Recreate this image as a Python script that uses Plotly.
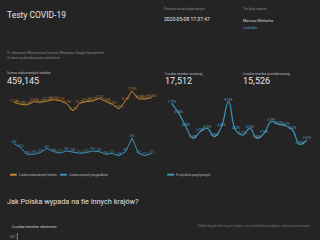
import plotly.graph_objects as go

# ---------------- data ----------------
dates = ["2020-04-16", "2020-04-17", "2020-04-18", "2020-04-19", "2020-04-20", "2020-04-21",
         "2020-04-22", "2020-04-23", "2020-04-24", "2020-04-25", "2020-04-26", "2020-04-27",
         "2020-04-28", "2020-04-29", "2020-04-30", "2020-05-01", "2020-05-02", "2020-05-03",
         "2020-05-04", "2020-05-05", "2020-05-06", "2020-05-07"]
tests_daily = [13584, 12805, 12549, 13835, 13576, 14104, 14617, 14229, 13190, 10187, 13198,
               13843, 14096, 15147, 13838, 12812, 10973, 14107, 17995, 14885, 14871, 15406]
cases_daily = [490, 414, 293, 296, 323, 401, 344, 317, 355, 340, 313, 325, 353, 342, 295,
               311, 268, 341, 585, 313, 271, 310]
pct_dates = dates[2:]
pct_positive = [7.77, 6.36, 4.48, 2.84, 3.78, 4.25, 3.08, 4.48, 8.00, 4.02, 3.31, 4.25,
                2.84, 3.55, 5.19, 4.81, 4.63, 4.02, 2.00, 2.61]

total_tests = 459145
tests_yesterday = 17512
tests_day_before = 15526
updated = "2020-05-08 17:37:47"

BG = "#242424"
ORANGE = "#c98a2e"
BLUE = "#3b93bb"
FONT = "Roboto"

fig = go.Figure()

fig.add_trace(go.Scatter(
    x=dates, y=tests_daily, mode="lines+text", xaxis="x", yaxis="y",
    line=dict(color=ORANGE, width=1),
    text=[f"{v:,}" for v in tests_daily], textposition="top center",
    textfont=dict(size=3, color="#a87a3a", family=FONT),
    showlegend=False, cliponaxis=False))
fig.add_trace(go.Scatter(
    x=dates, y=cases_daily, mode="lines+text", xaxis="x", yaxis="y2",
    line=dict(color=BLUE, width=1),
    text=[f"{v:,}" for v in cases_daily], textposition="top center",
    textfont=dict(size=3, color="#4f8fae", family=FONT),
    showlegend=False, cliponaxis=False))
fig.add_trace(go.Scatter(
    x=pct_dates, y=pct_positive, mode="lines+text", xaxis="x2", yaxis="y3",
    line=dict(color=BLUE, width=1.2, shape="spline", smoothing=1.3),
    text=[f"{v:.2f}%" for v in pct_positive], textposition="top center",
    textfont=dict(size=3, color="#5fa3c3", family=FONT),
    showlegend=False, cliponaxis=False))

hidden = dict(visible=False, showgrid=False, zeroline=False, fixedrange=True)
ydom = [1 - 162 / 240, 1 - 88 / 240]
fig.update_layout(
    width=320, height=240, margin=dict(l=0, r=0, t=0, b=0),
    paper_bgcolor=BG, plot_bgcolor=BG,
    font=dict(family=FONT, color="#dddddd"),
    xaxis=dict(hidden, type="category", domain=[10 / 320, 156 / 320], range=[-0.61, 21.66]),
    yaxis=dict(hidden, domain=ydom, range=[-9690, 19170]),
    yaxis2=dict(hidden, overlaying="y", range=[156, 1488]),
    xaxis2=dict(hidden, type="category", domain=[165 / 320, 310 / 320], range=[-0.94, 19.46]),
    yaxis3=dict(hidden, anchor="x2", domain=ydom, range=[-0.48, 9.92]),
)


def txt(x, y, s, size, color="#dddddd"):
    fig.add_annotation(x=x / 320, y=1 - y / 240, xref="paper", yref="paper",
                       xanchor="left", yanchor="middle", text=s, showarrow=False,
                       font=dict(size=size, color=color, family=FONT), borderpad=0)


def swatch(x0, x1, y, color):
    fig.add_shape(type="line", xref="paper", yref="paper",
                  x0=x0 / 320, x1=x1 / 320, y0=1 - y / 240, y1=1 - y / 240,
                  line=dict(color=color, width=2))


GRAY = "#8a8a8a"
txt(6, 15.5, "Testy COVID-19", 8.5, "#e6e6e6")
txt(6, 52.5, "Źr. informacji: Ministerstwo Zdrowia, Wikipedia i Google Spreadsheet", 3.2, GRAY)
txt(6, 58.3, "Te dane są aktualizowane codziennie", 3.2, GRAY)

txt(163, 8.7, "Ostatnia aktualizacja danych:", 3.2, GRAY)
txt(163, 19, updated, 5, "#e6e6e6")
txt(242, 8.7, "Ten blog napisał:", 3.2, GRAY)
txt(242, 20.3, "Mariusz Wielocha", 3.8, "#dddddd")
txt(242, 27.7, "LinkedIn", 3.8, "#5b9bd5")

txt(6, 72.7, "Suma wykonanych testów", 3.8, "#bbbbbb")
txt(6, 81, f"{total_tests:,}", 9, "#e6e6e6")
txt(164, 73.3, "Liczba testów wczoraj", 3.8, "#bbbbbb")
txt(164, 81, f"{tests_yesterday:,}", 9, "#e6e6e6")
txt(242, 73.3, "Liczba testów przedwczoraj", 3.8, "#bbbbbb")
txt(242, 81, f"{tests_day_before:,}", 9, "#e6e6e6")

swatch(10, 16.7, 174.7, ORANGE)
txt(17.5, 174.7, "Liczba wykonanych testów", 3.2, "#bbbbbb")
swatch(60, 66.7, 174.7, BLUE)
txt(67.5, 174.7, "Liczba nowych przypadków", 3.2, "#bbbbbb")
swatch(167.3, 174, 174.7, BLUE)
txt(174.5, 174.7, "% wyników pozytywnych", 3.2, "#bbbbbb")

txt(6, 201.3, "Jak Polska wypada na tle innych krajów?", 7.3, "#e0e0e0")
txt(11, 226, "Liczba testów dziennie", 4.4, "#cccccc")
txt(196, 225.7, "Źródło danych dla innych krajów: ourworldindata.org (dane z dnia poprzedniego)", 3.2, "#777777")
txt(8.5, 236.7, "800", 3, GRAY)
fig.add_shape(type="line", xref="paper", yref="paper",
              x0=17.3 / 320, x1=17.3 / 320, y0=1 - 233 / 240, y1=0,
              line=dict(color="#888888", width=1))

fig.write_html("out.html")
